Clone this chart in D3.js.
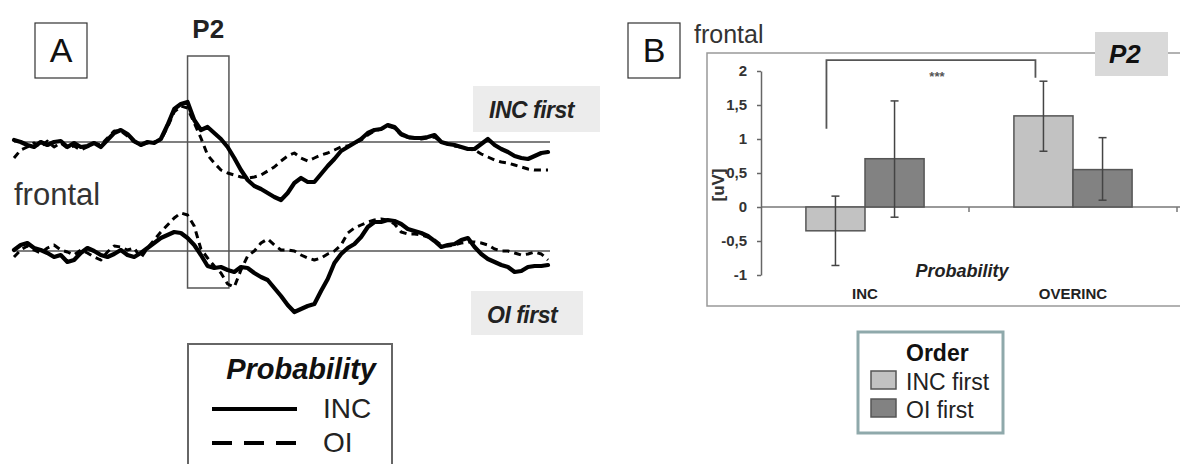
<!DOCTYPE html>
<html>
<head>
<meta charset="utf-8">
<script src="https://cdn.jsdelivr.net/npm/d3@7"></script>
<style>
body { margin: 0; background: #fff; }
svg { display: block; font-family: "Liberation Sans", Arial, sans-serif; }
</style>
</head>
<body>
<div id="chart"></div>
<script>
// ---- PANEL A DATA: frontal ERPs (uV), one sample every 10 ms ----
const times = d3.range(-100, 701, 10);

// INC first order
const incFirstINC = [
  0.2, 0, -0.3, -0.5, 0, -0.3, 0, 0.1, -0.5, -0.1,
  -0.5, -0.4, -0.1, -0.5, 0.2, 0.9, 1.2, 0.8, 0.1, -0.3,
  0, -0.1, 0.3, 1.7, 3.3, 3.8, 4.0, 2.2, 1.2, 1.5,
  0.9, 0.3, -0.5, -1.6, -2.8, -3.8, -4.4, -4.7, -5.1, -5.5,
  -5.8, -5.1, -4.1, -3.6, -4.0, -4.0, -3.2, -2.4, -1.7, -0.9,
  -0.5, -0.1, 0.3, 0.9, 1.2, 1.3, 1.7, 1.5, 0.8, 0.5,
  0.4, 0.4, 0.5, 0.7, 0, -0.2, -0.3, -0.5, -0.7, -0.7,
  -0.2, 0.3, -0.3, -0.7, -1.0, -1.4, -1.6, -1.7, -1.4, -1.1,
  -1.0];
const incFirstOI = [
  -1.6, -0.8, -0.5, -0.1, -0.5, 0.1, -0.5, -0.1, -0.6, -0.4,
  -0.8, -0.5, -0.1, -0.3, 0.4, 1.1, 1.1, 0.6, 0, -0.3,
  -0.1, 0, 0.2, 1.5, 3.0, 3.6, 3.4, 1.9, 0.4, -1.3,
  -2.1, -2.8, -3.1, -3.3, -3.5, -3.6, -3.5, -3.3, -2.9, -2.5,
  -1.9, -1.4, -1.1, -1.6, -1.9, -1.6, -1.3, -1.1, -0.8, -0.5,
  -0.4, -0.1, 0.2, 0.7, 1.1, 1.3, 1.6, 1.4, 0.7, 0.4,
  0.4, 0.3, 0.4, 0.5, 0, -0.2, -0.4, -0.5, -0.7, -0.8,
  -1.2, -1.5, -1.8, -2.0, -2.1, -2.3, -2.5, -2.7, -2.8, -2.8,
  -2.8];

// OI first order
const oiFirstINC = [
  0.1, 0.6, 0.8, 0.3, 0.1, -0.2, -0.6, -0.4, -1.1, -0.9,
  -0.2, 0.3, 0, -0.4, -0.6, -0.3, 0.1, -0.4, -0.6, -0.2,
  0.3, 0.8, 1.3, 1.6, 1.9, 1.8, 1.3, 0.6, -0.4, -1.5,
  -1.7, -1.6, -1.9, -2.1, -1.6, -1.7, -2.2, -2.6, -2.9, -3.7,
  -4.5, -5.4, -6.1, -5.8, -5.5, -5.3, -4.0, -2.8, -1.2, -0.3,
  0.3, 0.7, 1.4, 2.4, 2.9, 2.9, 3.1, 3.0, 2.7, 2.2,
  2.0, 1.8, 1.5, 1.0, 0.4, 0.6, 0.7, 1.1, 1.3, 0.4,
  -0.3, -0.8, -1.1, -1.4, -1.6, -2.1, -2.0, -1.6, -1.5, -1.5,
  -1.4];
const oiFirstOI = [
  -0.6, 0.1, 0.5, 0.1, -0.2, 0.3, 0.6, 0.1, -0.1, -0.4,
  0.1, -0.2, -0.6, -0.9, -0.1, 0.5, 0.4, 0.1, 0.3, -0.7,
  0.3, 1.1, 1.9, 2.6, 3.3, 3.8, 3.6, 2.5, 0.2, -0.7,
  -1.5, -2.2, -3.3, -3.6, -1.9, -0.5, 0, 0.8, 1.2, 0.6,
  0.1, 0.1, 0, -0.4, -0.7, -0.9, -0.7, -0.3, 0, 0.6,
  1.8, 2.3, 2.6, 2.9, 3.1, 3.2, 3.1, 2.7, 1.9, 1.7,
  1.7, 1.6, 1.4, 1.1, 0.6, 0.5, 0.6, 0.8, 0.9, 0.9,
  0.8, 0.6, 0.2, 0, 0, -0.2, -0.4, -0.3, -0.1, -0.3,
  -0.9];

const p2Window = [160, 222];   // ms
const legendA = ["INC", "OI"];

// ---- PANEL B DATA: mean P2 amplitude (uV) ----
const categories = ["INC", "OVERINC"];
const orders = ["INC first", "OI first"];
const meansIncFirst = [-0.35, 1.34];
const meansOiFirst = [0.71, 0.55];
const errIncFirst = [[-0.86, 0.16], [0.82, 1.85]];
const errOiFirst = [[-0.15, 1.56], [0.10, 1.02]];
const yTicksB = [-1, -0.5, 0, 0.5, 1, 1.5, 2];
const orderColors = ["#c2c2c2", "#828282"];

let width = 1180, height = 464;

let svg = d3.select("#chart").append("svg")
    .attr("width", width)
    .attr("height", height);

svg.append("rect").attr("width", width).attr("height", height).attr("fill", "#fff");

// ===================== PANEL A =====================
let xA = d3.scaleLinear().domain([-100, 700]).range([14, 548]);
let yTop = d3.scaleLinear().domain([-10, 10]).range([242, 42]);
let yBot = d3.scaleLinear().domain([-10, 10]).range([351, 151]);

// letter box
svg.append("rect").attr("x", 35).attr("y", 23).attr("width", 52).attr("height", 55)
    .attr("fill", "none").attr("stroke", "#333").attr("stroke-width", 1.2);
svg.append("text").attr("x", 61).attr("y", 62).attr("text-anchor", "middle")
    .attr("font-size", 34).attr("fill", "#111").text("A");

// baselines
[yTop, yBot].forEach(y => {
    svg.append("line")
        .attr("x1", xA(-100)).attr("x2", xA(700) + 2)
        .attr("y1", y(0)).attr("y2", y(0))
        .attr("stroke", "#555").attr("stroke-width", 1.5);
});

// P2 window
svg.append("rect")
    .attr("x", xA(p2Window[0])).attr("y", 56)
    .attr("width", xA(p2Window[1]) - xA(p2Window[0])).attr("height", 232)
    .attr("fill", "none").attr("stroke", "#555").attr("stroke-width", 1.5);
svg.append("text").attr("x", xA((p2Window[0] + p2Window[1]) / 2)).attr("y", 38)
    .attr("text-anchor", "middle").attr("font-size", 26).attr("font-weight", "bold")
    .attr("fill", "#222").text("P2");

let traces = [
    {vals: incFirstOI, y: yTop, dash: true},
    {vals: incFirstINC, y: yTop, dash: false},
    {vals: oiFirstOI, y: yBot, dash: true},
    {vals: oiFirstINC, y: yBot, dash: false}
];

traces.forEach(tr => {
    let line = d3.line()
        .x((d, i) => xA(times[i]))
        .y(d => tr.y(d));
    svg.append("path")
        .datum(tr.vals)
        .attr("d", line)
        .attr("fill", "none")
        .attr("stroke", "#000")
        .attr("stroke-width", tr.dash ? 3 : 4.2)
        .attr("stroke-linejoin", "round")
        .attr("stroke-linecap", tr.dash ? "butt" : "round")
        .attr("stroke-dasharray", tr.dash ? "7,5" : null);
});

svg.append("text").attr("x", 14).attr("y", 205)
    .attr("font-size", 31).attr("fill", "#333").text("frontal");

// condition tags
let tagsA = [
    {label: "INC first", x: 473, y: 86, w: 127, h: 46},
    {label: "OI first", x: 471, y: 291, w: 112, h: 44}
];
tagsA.forEach(t => {
    svg.append("rect").attr("x", t.x).attr("y", t.y).attr("width", t.w).attr("height", t.h)
        .attr("fill", "#ececec");
    svg.append("text").attr("x", t.x + 16).attr("y", t.y + 32)
        .attr("font-size", 23).attr("font-weight", "bold").attr("font-style", "italic")
        .attr("letter-spacing", -0.5).attr("fill", "#222").text(t.label);
});

// legend A
let legA = svg.append("g");
legA.append("rect").attr("x", 188).attr("y", 344).attr("width", 204).attr("height", 140)
    .attr("fill", "#fff").attr("stroke", "#666").attr("stroke-width", 2);
legA.append("text").attr("x", 376).attr("y", 379).attr("text-anchor", "end")
    .attr("font-size", 29).attr("font-weight", "bold").attr("font-style", "italic")
    .attr("fill", "#111").text("Probability");
legendA.forEach((lab, i) => {
    let yy = 409 + i * 34;
    legA.append("line").attr("x1", 212).attr("x2", 297).attr("y1", yy).attr("y2", yy)
        .attr("stroke", "#000").attr("stroke-width", 4)
        .attr("stroke-dasharray", i === 1 ? "20,12" : null);
    legA.append("text").attr("x", 323).attr("y", yy + 9)
        .attr("font-size", 28).attr("fill", "#222").text(lab);
});

// ===================== PANEL B =====================
svg.append("rect").attr("x", 628).attr("y", 23).attr("width", 52).attr("height", 55)
    .attr("fill", "none").attr("stroke", "#333").attr("stroke-width", 1.2);
svg.append("text").attr("x", 654).attr("y", 62).attr("text-anchor", "middle")
    .attr("font-size", 34).attr("fill", "#111").text("B");
svg.append("text").attr("x", 694).attr("y", 43)
    .attr("font-size", 25).attr("fill", "#333").text("frontal");

// frame
svg.append("rect").attr("x", 707).attr("y", 53).attr("width", 520).attr("height", 253)
    .attr("fill", "none").attr("stroke", "#999").attr("stroke-width", 1.5);
svg.append("rect").attr("x", 1095).attr("y", 32).attr("width", 73).attr("height", 44)
    .attr("fill", "#d9d9d9");
svg.append("text").attr("x", 1109).attr("y", 63)
    .attr("font-size", 26).attr("font-weight", "bold").attr("font-style", "italic")
    .attr("fill", "#111").text("P2");

let yB = d3.scaleLinear().domain([-1, 2]).range([275, 71]);
let x0 = d3.scaleBand().domain(categories).range([761, 1177]);
let x1 = d3.scaleBand().domain(orders).range([0, x0.bandwidth()]).paddingOuter(0.76);

let barData = [];
categories.forEach((c, i) => {
    barData.push({cat: c, order: orders[0], mean: meansIncFirst[i], lo: errIncFirst[i][0], hi: errIncFirst[i][1]});
    barData.push({cat: c, order: orders[1], mean: meansOiFirst[i], lo: errOiFirst[i][0], hi: errOiFirst[i][1]});
});
let barX = d => x0(d.cat) + x1(d.order);
let barMid = d => barX(d) + x1.bandwidth() / 2;

// x axis line + tick marks
svg.append("line").attr("x1", 761).attr("x2", 1180).attr("y1", yB(0)).attr("y2", yB(0))
    .attr("stroke", "#777").attr("stroke-width", 1.5);
svg.selectAll(".xtick")
    .data(categories.slice(1).map(c => x0(c)).concat([x0(categories[1]) + x0.bandwidth()]))
    .enter().append("line")
    .attr("x1", d => d).attr("x2", d => d)
    .attr("y1", yB(0)).attr("y2", yB(0) + 5)
    .attr("stroke", "#777").attr("stroke-width", 1.5);

// bars
svg.selectAll(".bar")
    .data(barData)
    .enter().append("rect")
    .attr("class", "bar")
    .attr("x", barX)
    .attr("width", x1.bandwidth())
    .attr("y", d => yB(Math.max(0, d.mean)))
    .attr("height", d => Math.abs(yB(d.mean) - yB(0)))
    .attr("fill", d => orderColors[orders.indexOf(d.order)])
    .attr("stroke", "#555").attr("stroke-width", 1.5);

// error bars
let eb = svg.selectAll(".err").data(barData).enter().append("g").attr("class", "err");
eb.append("line").attr("x1", barMid).attr("x2", barMid)
    .attr("y1", d => yB(d.lo)).attr("y2", d => yB(d.hi))
    .attr("stroke", "#444").attr("stroke-width", 1.5);
["lo", "hi"].forEach(k => {
    eb.append("line").attr("x1", d => barMid(d) - 4).attr("x2", d => barMid(d) + 4)
        .attr("y1", d => yB(d[k])).attr("y2", d => yB(d[k]))
        .attr("stroke", "#444").attr("stroke-width", 1.5);
});

// y axis
let yAxis = svg.append("g")
    .attr("transform", "translate(761,0)")
    .call(d3.axisLeft(yB).tickValues(yTicksB).tickSize(4).tickSizeOuter(0).tickPadding(10)
        .tickFormat(d => String(d).replace(".", ",")));
yAxis.select(".domain").attr("stroke", "#666").attr("stroke-width", 1.5);
yAxis.selectAll(".tick line").attr("stroke", "#666").attr("stroke-width", 1.5);
yAxis.selectAll(".tick text")
    .attr("font-family", "'Liberation Sans', Arial, sans-serif")
    .attr("font-size", 15).attr("font-weight", "bold").attr("fill", "#333");

svg.append("text")
    .attr("transform", "translate(724,185) rotate(-90)")
    .attr("text-anchor", "middle").attr("font-size", 17).attr("font-weight", "bold")
    .attr("fill", "#333").text("[uV]");

// significance bracket
let bL = barMid(barData[0]) - 9;
let bR = barMid(barData[2]) - 8;
svg.append("path")
    .attr("d", `M${bL},${yB(1.15)} V${yB(2.16)} H${bR} V${yB(1.9)}`)
    .attr("fill", "none").attr("stroke", "#555").attr("stroke-width", 1.8);
svg.append("text").attr("x", (bL + bR) / 2 + 6).attr("y", yB(1.9) + 3)
    .attr("text-anchor", "middle").attr("font-size", 13).attr("font-weight", "bold")
    .attr("fill", "#555").text("***");

// category labels
svg.selectAll(".catlab").data(categories).enter().append("text")
    .attr("x", d => x0(d) + x0.bandwidth() / 2).attr("y", 299)
    .attr("text-anchor", "middle").attr("font-size", 15).attr("font-weight", "bold")
    .attr("fill", "#222").text(d => d);
svg.append("text").attr("x", 962).attr("y", 277).attr("text-anchor", "middle")
    .attr("font-size", 18).attr("font-weight", "bold").attr("font-style", "italic")
    .attr("fill", "#222").text("Probability");

// legend B
let legB = svg.append("g");
legB.append("rect").attr("x", 858).attr("y", 332).attr("width", 145).attr("height", 101)
    .attr("fill", "#fff").attr("stroke", "#8fa9ab").attr("stroke-width", 3);
legB.append("text").attr("x", 906).attr("y", 361)
    .attr("font-size", 23).attr("font-weight", "bold").attr("fill", "#111").text("Order");
orders.forEach((o, i) => {
    let yy = 371 + i * 28;
    legB.append("rect").attr("x", 871).attr("y", yy).attr("width", 25).attr("height", 18)
        .attr("fill", orderColors[i]).attr("stroke", "#555").attr("stroke-width", 1.5);
    legB.append("text").attr("x", 906).attr("y", yy + 19)
        .attr("font-size", 23).attr("fill", "#222").text(o);
});
</script>
</body>
</html>
